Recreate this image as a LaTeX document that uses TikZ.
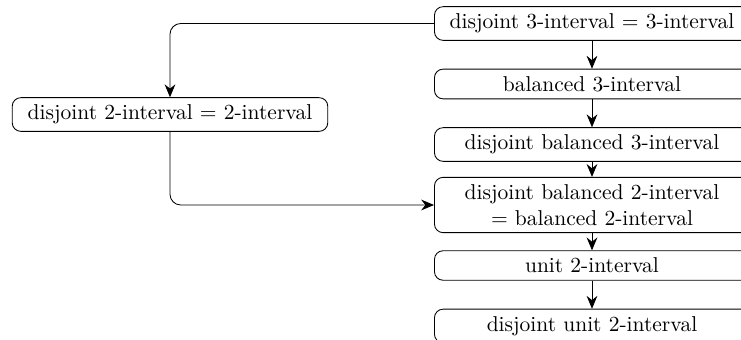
\documentclass[tikz,border=0pt]{standalone}
\usetikzlibrary{arrows.meta}
\begin{document}
\begin{tikzpicture}[x=0.465pt, y=-0.465pt,
  box/.style={draw, rounded corners=4pt, inner xsep=6pt, inner ysep=3.33pt, align=center},
  rbox/.style={box, minimum width=146.5pt},
  arr/.style={-{Stealth[length=6pt,width=5pt,inset=2pt]}, rounded corners=5pt}]
  \clip (0,0) rectangle (741,340);
  \useasboundingbox (0,0) rectangle (741,340);

  % right column of interval classes
  \node[rbox] (d3)  at (592, 23.5)  {disjoint 3-interval = 3-interval};
  \node[rbox] (b3)  at (592, 84)    {balanced 3-interval};
  \node[rbox] (db3) at (592, 144.5) {disjoint balanced 3-interval};
  \node[rbox] (db2) at (592, 205)   {disjoint balanced 2-interval\\= balanced 2-interval};
  \node[rbox] (u2)  at (592, 265.5) {unit 2-interval};
  \node[rbox] (du2) at (592, 326)   {disjoint unit 2-interval};

  % left branch
  \node[box, inner xsep=7.2pt] (d2) at (170, 114.5) {disjoint 2-interval = 2-interval};

  % inclusions
  \draw[arr] (d3) -- (b3);
  \draw[arr] (b3) -- (db3);
  \draw[arr] (db3) -- (db2);
  \draw[arr] (db2) -- (u2);
  \draw[arr] (u2) -- (du2);
  \draw[arr] (d3.west) -| (d2.north);
  \draw[arr] (d2.south) |- (db2.west);
\end{tikzpicture}
\end{document}
